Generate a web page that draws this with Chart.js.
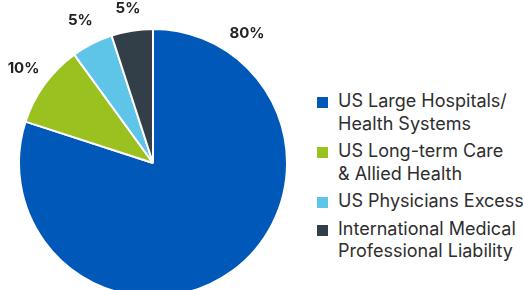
<!DOCTYPE html>
<html>
<head>
<meta charset="utf-8">
<script src="https://cdn.jsdelivr.net/npm/chart.js@4"></script>
<style>
  html, body { margin: 0; padding: 0; background: #fff; overflow: hidden; width: 523px; height: 290px; }
  #wrap { position: absolute; left: 0; top: 0; width: 306px; height: 300px; }
  #legend { position: absolute; left: 317px; top: 90px; width: 220px; white-space: nowrap; font-family: Inter, "Noto Sans", sans-serif; font-size: 18px; line-height: 22.5px; color: #2e2e2e; }
  .item { display: flex; align-items: flex-start; margin-bottom: 5px; }
  .box { width: 11px; height: 11px; margin-top: 7px; margin-right: 10px; flex: none; }
</style>
</head>
<body>
<div id="wrap"><canvas id="chart"></canvas></div>
<div id="legend"></div>
<script>
const segments = [
  ["US Large Hospitals/", "Health Systems"],
  ["US Long-term Care", "& Allied Health"],
  ["US Physicians Excess"],
  ["International Medical", "Professional Liability"]
];
const shares = [80, 10, 5, 5];
const sliceColors = ["#0058b8", "#9bc121", "#5ec4e8", "#333f48"];

// legend built by hand, labels wrap over two lines
const legend = document.getElementById("legend");
segments.forEach((lines, i) => {
  const item = document.createElement("div");
  item.className = "item";
  const box = document.createElement("span");
  box.className = "box";
  box.style.background = sliceColors[i];
  const txt = document.createElement("span");
  txt.innerHTML = lines.join("<br>");
  item.appendChild(box);
  item.appendChild(txt);
  legend.appendChild(item);
});

// percent labels outside the slices
const outsideLabels = {
  id: "outsideLabels",
  afterDatasetsDraw(chart) {
    const ctx = chart.ctx;
    const meta = chart.getDatasetMeta(0);
    ctx.save();
    ctx.font = "bold 15px Inter, 'Noto Sans', sans-serif";
    ctx.fillStyle = "#222";
    ctx.textAlign = "center";
    ctx.textBaseline = "middle";
    meta.data.forEach((arc, i) => {
      const p = arc.getProps(["x", "y", "startAngle", "endAngle", "outerRadius"], true);
      const span = p.endAngle - p.startAngle;
      // big slice gets its label near its start, the rest at the middle
      const angle = span > Math.PI ? p.startAngle + 0.2 * Math.PI : p.startAngle + span / 2;
      const dist = p.outerRadius + 26;
      const x = p.x + Math.cos(angle) * dist;
      const y = Math.max(p.y + Math.sin(angle) * dist, 8); // keep inside the top edge
      ctx.fillText(shares[i] + "%", x, y);
    });
    ctx.restore();
  }
};

new Chart(document.getElementById("chart"), {
  type: "pie",
  data: {
    labels: segments.map(l => l.join(" ")),
    datasets: [{
      data: shares,
      backgroundColor: sliceColors,
      borderColor: "#fff",
      borderWidth: 2
    }]
  },
  options: {
    responsive: true,
    maintainAspectRatio: false,
    animation: false,
    layout: { padding: { left: 18, right: 18, top: 28, bottom: 2 } },
    plugins: {
      legend: { display: false },
      tooltip: { enabled: false }
    }
  },
  plugins: [outsideLabels]
});
</script>
</body>
</html>
